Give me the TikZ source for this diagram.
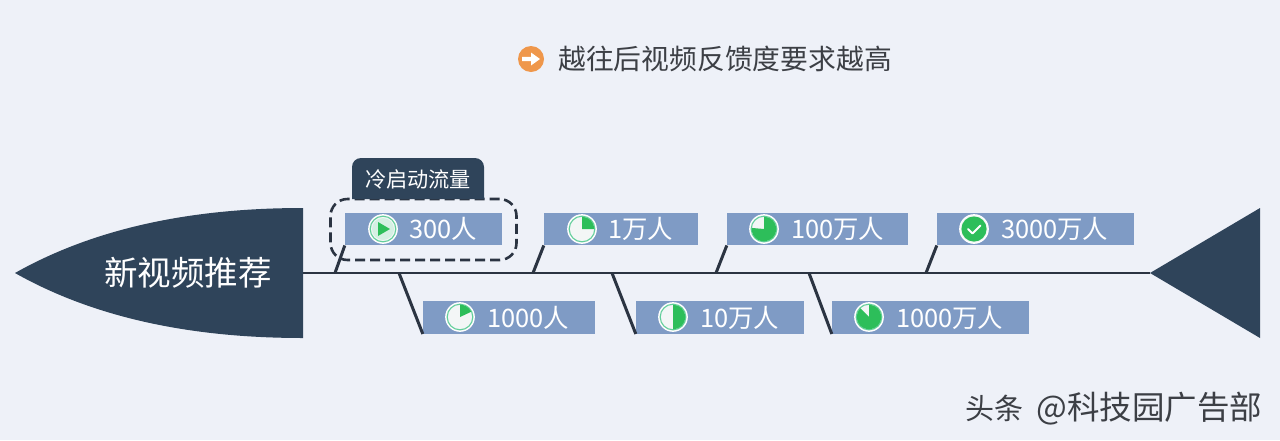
\documentclass[tikz,border=0pt]{standalone}
\usepackage{fontspec}
\setmainfont{Noto Sans CJK SC}
\usetikzlibrary{shapes.geometric}
\definecolor{bgc}{HTML}{EEF1F8}
\definecolor{darkc}{HTML}{2F445A}
\definecolor{linec}{HTML}{2B3442}
\definecolor{boxc}{HTML}{7F9BC5}
\definecolor{greenc}{HTML}{2DBE5A}
\definecolor{ringc}{HTML}{63CF9B}
\definecolor{facec}{HTML}{F3F6F6}
\definecolor{palec}{HTML}{D5F0E3}
\definecolor{orangec}{HTML}{EF974B}
\definecolor{titlec}{HTML}{3C3F45}
\tikzset{
  databox/.style={rectangle,fill=boxc,inner sep=0pt,minimum width=#1,minimum height=32.5pt},
  boxtext/.style={anchor=west,inner sep=0pt,text=white,font=\fontsize{25.4}{28}\selectfont},
  dial/.style={circle,fill=facec,draw=white,line width=1.2pt,inner sep=0pt,minimum size=28.5pt},
  branch/.style={draw=linec,line width=3pt},
  wedge/.style={fill=greenc},
  ring/.style={draw=ringc,line width=1.1pt}
}
\newcommand{\dialring}[1]{\draw[ring] (#1.center) circle[radius=12.8pt];}
\newcommand{\dialwedge}[2]{\fill[wedge] (#1.center) -- ++(90:12.3pt) arc[start angle=90,end angle=#2,radius=12.3pt] -- cycle;}
\begin{document}
\begin{tikzpicture}[x=1pt,y=-1pt]
\useasboundingbox (0,0) rectangle (1280,440);
\fill[bgc] (0,0) rectangle (1280,440);

% spine
\coordinate (headback) at (303,273);
\coordinate (tailtip) at (1150,273);
\coordinate (j300) at (335,273);
\coordinate (j1000) at (399,273);
\coordinate (j1w) at (533,273);
\coordinate (j10w) at (612,273);
\coordinate (j100w) at (716,273);
\coordinate (j1000w) at (809,273);
\coordinate (j3000w) at (926,273);
\draw[draw=linec,line width=2pt] (headback) -- (tailtip);

% head and tail
\fill[darkc] (15,273) .. controls (100,225) and (200,208) .. (303,208) -- (303,338) .. controls (200,338) and (100,321) .. (15,273) -- cycle;
\fill[darkc] (tailtip) -- (1260,208) -- (1260,338) -- cycle;
\node[inner sep=0pt,text=white,font=\fontsize{33.5}{36}\selectfont] (headtext) at (188,273) {新视频推荐};

% dashed frame and tab
\node[rectangle,rounded corners=17pt,draw=linec,line width=2.6pt,dash pattern=on 10pt off 5pt,minimum width=186pt,minimum height=61pt,inner sep=0pt] (coldframe) at (423.5,229.5) {};
\fill[darkc] (352,199) [rounded corners=9pt] -- (352,158) -- (484,158) [sharp corners] -- (484,199) -- cycle;
\node[inner sep=0pt,text=white,font=\fontsize{21.2}{24}\selectfont] (coldtext) at (418,179) {冷启动流量};

% boxes
\node[databox=157pt] (b300) at (423.5,229) {};
\node[databox=172pt] (b1000) at (509,317.5) {};
\node[databox=154pt] (b1w) at (621,229) {};
\node[databox=168pt] (b10w) at (720,317.5) {};
\node[databox=181pt] (b100w) at (817.5,229) {};
\node[databox=197pt] (b1000w) at (930.5,317.5) {};
\node[databox=197pt] (b3000w) at (1035.5,229) {};

% branches
\draw[branch] (j300) -- (b300.south west);
\draw[branch] (j1000) -- (b1000.south west);
\draw[branch] (j1w) -- (b1w.south west);
\draw[branch] (j10w) -- (b10w.south west);
\draw[branch] (j100w) -- (b100w.south west);
\draw[branch] (j1000w) -- (b1000w.south west);
\draw[branch] (j3000w) -- (b3000w.south west);

% labels
\node[boxtext] (t300) at (409,228.5) {300人};
\node[boxtext] (t1000) at (487,317.5) {1000人};
\node[boxtext] (t1w) at (608,228.5) {1万人};
\node[boxtext] (t10w) at (700,317.5) {10万人};
\node[boxtext] (t100w) at (791,228.5) {100万人};
\node[boxtext] (t1000w) at (896,317.5) {1000万人};
\node[boxtext] (t3000w) at (1001,228.5) {3000万人};

% dials
\node[dial] (d300) at (383,229) {};
\dialring{d300}
\fill[palec] (d300.center) circle[radius=11pt];
\fill[greenc] (378,222) -- (390,229) -- (378,236) -- cycle;
\node[dial] (d1000) at (460,317) {};
\dialring{d1000}
\dialwedge{d1000}{25}
\node[dial] (d1w) at (582,229) {};
\dialring{d1w}
\dialwedge{d1w}{0}
\node[dial] (d10w) at (673,317) {};
\dialring{d10w}
\dialwedge{d10w}{-90}
\node[dial] (d100w) at (764,229) {};
\dialring{d100w}
\dialwedge{d100w}{-185}
\node[dial] (d1000w) at (869,317) {};
\dialring{d1000w}
\dialwedge{d1000w}{-225}
\node[dial] (d3000w) at (974,229) {};
\fill[greenc] (d3000w.center) circle[radius=12.6pt];
\draw[white,line width=1.8pt,line cap=round,line join=round] (968,229) -- (972.5,233.5) -- (980.5,225.5);

% title
\node[circle,fill=orangec,inner sep=0pt,minimum size=26pt] (oicon) at (531,59) {};
\fill[white] (522,56.8) -- (531,56.8) -- (531,52.5) -- (540,59) -- (531,65.5) -- (531,61.2) -- (522,61.2) -- cycle;
\node[anchor=west,inner sep=0pt,text=titlec,font=\fontsize{27.8}{30}\selectfont] (title) at (558,59) {越往后视频反馈度要求越高};

% watermark
\node[anchor=west,inner sep=0pt,text=titlec] (mark) at (965,409) {\fontsize{29}{32}\selectfont 头条\hspace{0.45em}\fontsize{32.5}{32}\selectfont @科技园广告部};
\end{tikzpicture}
\end{document}
